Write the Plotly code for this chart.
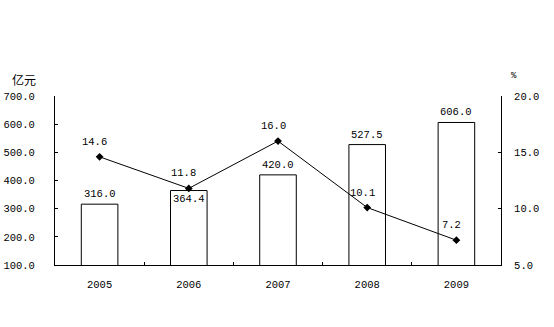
import plotly.graph_objects as go

years = ["2005", "2006", "2007", "2008", "2009"]
amount = [316.0, 364.4, 420.0, 527.5, 606.0]
growth = [14.6, 11.8, 16.0, 10.1, 7.2]
left_ticks = [100, 200, 300, 400, 500, 600, 700]
right_ticks = [5, 10, 15, 20]

FONT = "Liberation Mono"
CJK = "Noto Sans CJK SC"
FS = 10.5
fig = go.Figure()
fig.add_trace(go.Bar(x=years, y=amount, width=0.41, marker=dict(color="white", line=dict(color="black", width=1)),
                     yaxis="y", showlegend=False))
fig.add_trace(go.Scatter(x=years, y=growth, yaxis="y2", mode="lines+markers",
                         line=dict(color="black", width=1),
                         marker=dict(symbol="diamond", size=6, color="black"), showlegend=False))

ann = []
for i, v in enumerate(amount):
    inside = (i == 1)
    ann.append(dict(x=i, y=v, xref="x", yref="y", text=f"{v:.1f}", showarrow=False,
                    yshift=-8 if inside else 10, font=dict(family=FONT, size=FS, color="black")))
for i, g in enumerate(growth):
    ann.append(dict(x=i, y=g, xref="x", yref="y2", text=f"{g:.1f}", showarrow=False,
                    yshift=15, xshift=-5, font=dict(family=FONT, size=FS, color="black")))
ann.append(dict(x=-0.07, y=1.1, xref="paper", yref="paper", text="亿元", showarrow=False,
                xanchor="center", yanchor="middle", font=dict(family=CJK, size=12, color="black")))
ann.append(dict(x=1.03, y=1.12, xref="paper", yref="paper", text="%", showarrow=False,
                xanchor="center", yanchor="middle", font=dict(family=FONT, size=9, color="black")))

fig.update_layout(
    annotations=ann,
    width=554, height=327,
    margin=dict(l=55, r=53, t=96, b=62, autoexpand=False),
    plot_bgcolor="white", paper_bgcolor="white",
    font=dict(family=FONT, size=FS, color="black"),
    xaxis=dict(type="category", range=[-0.5, 4.5], autorange=False, showline=True, linecolor="black", linewidth=1,
               ticks="inside", ticklen=3, tickcolor="black", tickson="boundaries", tickangle=0, automargin=False,
               showgrid=False, zeroline=False, ticklabelstandoff=9),
    yaxis=dict(range=[100, 700], tickvals=left_ticks, tickformat=".1f", automargin=False,
               showline=True, linecolor="black", linewidth=1, ticks="inside", ticklen=3,
               tickcolor="black", showgrid=False, zeroline=False, ticklabelstandoff=17),
    yaxis2=dict(range=[5, 20], tickvals=right_ticks, tickformat=".1f", overlaying="y", side="right", automargin=False,
                showline=True, linecolor="black", linewidth=1, ticks="inside", ticklen=3,
                tickcolor="black", showgrid=False, zeroline=False, ticklabelstandoff=10),
)
fig.write_html("out.html")
